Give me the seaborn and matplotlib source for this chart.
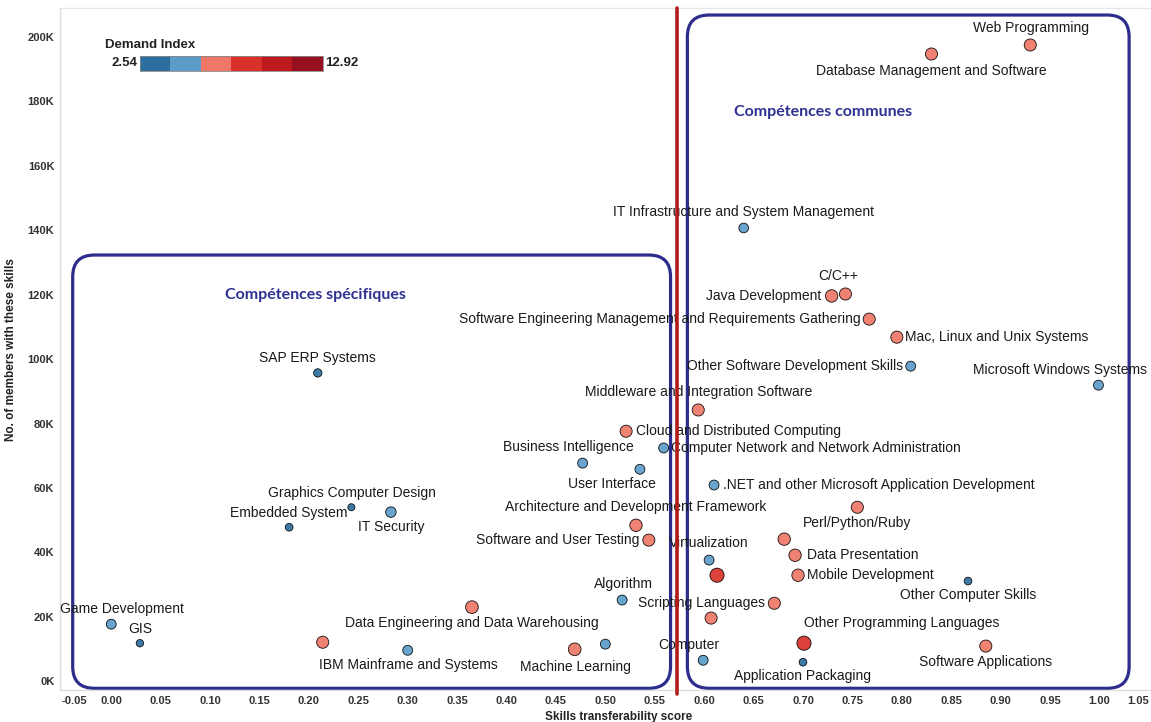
import numpy as np
import pandas as pd
import matplotlib
matplotlib.use("Agg")
import matplotlib.pyplot as plt
import seaborn as sns
from matplotlib.colors import ListedColormap, Normalize
from matplotlib.patches import FancyBboxPatch
from matplotlib.ticker import FuncFormatter, MultipleLocator

# skill name, transferability score, members (thousands), demand index
skills = [
    "Web Programming", "Database Management and Software",
    "IT Infrastructure and System Management", "C/C++", "Java Development",
    "Software Engineering Management and Requirements Gathering",
    "Mac, Linux and Unix Systems", "Other Software Development Skills",
    "Microsoft Windows Systems", "Middleware and Integration Software",
    "Cloud and Distributed Computing", "Computer Network and Network Administration",
    "Business Intelligence", "User Interface",
    ".NET and other Microsoft Application Development", "Perl/Python/Ruby",
    "Architecture and Development Framework", "Software and User Testing",
    "Virtualization", "", "", "Data Presentation", "Mobile Development",
    "Other Computer Skills", "Scripting Languages", "", "Algorithm",
    "Other Programming Languages", "Software Applications", "Computer",
    "Application Packaging", "Machine Learning", "",
    "Data Engineering and Data Warehousing", "", "IBM Mainframe and Systems",
    "Game Development", "GIS", "SAP ERP Systems", "Graphics Computer Design",
    "Embedded System", "IT Security",
]
score = [
    0.930, 0.830, 0.640, 0.743, 0.729, 0.767, 0.795, 0.809, 0.999, 0.594,
    0.521, 0.559, 0.477, 0.535, 0.610, 0.755, 0.531, 0.544, 0.605, 0.681,
    0.613, 0.692, 0.695, 0.867, 0.671, 0.607, 0.517, 0.701, 0.885, 0.599,
    0.700, 0.469, 0.500, 0.365, 0.214, 0.300, 0.000, 0.029, 0.209, 0.243,
    0.180, 0.283,
]
members_k = [
    197.5, 194.7, 140.7, 120.2, 119.6, 112.4, 106.8, 97.8, 91.9, 84.2,
    77.6, 72.4, 67.7, 65.8, 60.9, 54.0, 48.4, 43.8, 37.6, 44.1,
    32.9, 39.1, 32.9, 31.1, 24.2, 19.6, 25.2, 11.8, 10.9, 6.5,
    5.9, 9.9, 11.5, 23.0, 12.1, 9.6, 17.7, 11.8, 95.7, 54.0,
    47.8, 52.5,
]
demand = [
    7.0, 7.0, 4.8, 7.0, 7.3, 7.0, 7.0, 5.0, 5.0, 7.0,
    7.0, 5.0, 5.0, 5.0, 5.0, 7.0, 7.3, 7.0, 5.0, 7.3,
    9.2, 7.3, 7.3, 3.4, 7.0, 7.0, 5.0, 9.2, 7.0, 5.0,
    3.4, 7.6, 5.0, 7.6, 7.0, 5.0, 5.0, 3.2, 3.8, 3.0,
    3.4, 5.5,
]
# label offset in pixels from the point, and alignment
label_dx = [
    1, 0, 0, -7, -10, -9, 8, -8, -38, 0,
    10, 7, -14, -28, 9, 0, 0, -9, 0, 0,
    0, 12, 9, 0, -9, 0, 1, 0, 0, -14,
    0, 1, 0, 0, 0, 1, 11, 0, 0, 1,
    0, 0,
]
label_dy = [
    17, -17, 16, 18, 0, 0, 0, 0, 15, 18,
    0, 0, 16, -15, 0, -16, 18, 0, 17, 0,
    0, 0, 0, -14, 0, 0, 16, 20, -16, 15,
    -14, -18, 0, -16, 0, -15, 15, 14, 15, 14,
    14, -15,
]
label_ha = [
    "center", "center", "center", "center", "right", "right", "left", "right",
    "center", "center", "left", "left", "center", "center", "left", "center",
    "center", "right", "center", "center", "center", "left", "left", "center",
    "right", "center", "center", "left", "center", "center", "center", "center",
    "center", "center", "center", "center", "center", "center", "center",
    "center", "center", "center",
]

df = pd.DataFrame({"skill": skills, "score": score, "members": members_k,
                   "demand": demand})

demand_min, demand_max = 2.54, 12.92
step_colors = ["#2c6f9f", "#5b9cc9", "#ef7767", "#d9312a", "#bd1a1d", "#96101f"]
cmap = ListedColormap(step_colors)
norm = Normalize(demand_min, demand_max)

sns.set_style("white")
plt.rcParams["font.family"] = ["Liberation Sans", "DejaVu Sans"]

fig = plt.figure(figsize=(11.51, 7.22), dpi=100)
ax = fig.add_axes([0.052, 0.044, 0.947, 0.945])

sns.scatterplot(data=df, x="score", y="members", hue="demand", palette=cmap,
                hue_norm=norm, size="demand", sizes=(20, 150),
                size_norm=(demand_min, demand_max), edgecolor="#00000030",
                linewidth=0.6, alpha=0.92, legend=False, ax=ax, zorder=3)

for s, x, y, dx, dy, ha in zip(skills, score, members_k, label_dx, label_dy, label_ha):
    if s:
        ax.annotate(s, (x, y), xytext=(dx, dy), textcoords="offset pixels",
                    ha=ha, va="center", fontsize=10, color="#1a1a1a", zorder=4)

ax.set_xlim(-0.052, 1.051)
ax.set_ylim(-2.8, 209)
ax.xaxis.set_major_locator(MultipleLocator(0.05))
ax.yaxis.set_major_locator(MultipleLocator(20))
ax.xaxis.set_major_formatter(FuncFormatter(lambda v, p: f"{v:.2f}"))
ax.yaxis.set_major_formatter(FuncFormatter(lambda v, p: f"{v:.0f}K"))
ax.tick_params(axis="both", length=0, labelsize=8, labelcolor="#333333", pad=4)
xlabels = ax.get_xticklabels()
for lab in xlabels + ax.get_yticklabels():
    lab.set_fontweight("bold")
# edge labels squeezed inside the frame
fig.canvas.draw()
xticks = ax.get_xticks()
for t, lab in zip(xticks, ax.get_xticklabels()):
    if abs(t + 0.05) < 1e-6:
        lab.set_ha("left")
    elif abs(t - 1.05) < 1e-6:
        lab.set_ha("right")

ax.set_xlabel("Skills transferability score", fontsize=8.5, fontweight="bold",
              color="#222222")
ax.set_ylabel("No. of members with these skills", fontsize=8.5,
              fontweight="bold", color="#222222")
ax.xaxis.set_label_coords(0.513, -0.031)
ax.yaxis.set_label_coords(-0.039, 0.5)

for side in ["top", "right"]:
    ax.spines[side].set_visible(False)
for side in ["left", "bottom"]:
    ax.spines[side].set_color("#dddddd")
    ax.spines[side].set_linewidth(1)
ax.axhline(209, color="#e6e6e6", lw=1, zorder=1, clip_on=False)

# red separation line
ax.axvline(0.573, color="#b01d1d", lw=2.6, ymin=-0.005, ymax=1.0,
           clip_on=False, zorder=5)

# rounded group boxes
px_x = ax.bbox.width / (1.051 + 0.052)
px_y = ax.bbox.height / (209 + 2.8)
aspect = px_x / px_y
for (x0, x1, y0, y1) in [(-0.039, 0.566, -2.2, 132.3), (0.583, 1.030, -2.2, 206.8)]:
    box = FancyBboxPatch((x0, y0), x1 - x0, y1 - y0,
                         boxstyle="round,pad=0,rounding_size=0.022",
                         mutation_aspect=aspect, fill=False,
                         edgecolor="#2c2d8c", linewidth=2.3, zorder=2,
                         clip_on=False)
    ax.add_patch(box)

ax.text(0.207, 119.9, "Compétences spécifiques", fontsize=11.5,
        fontweight="bold", color="#2f3192", ha="center", va="center",
        family=["Lato", "DejaVu Sans"])
ax.text(0.720, 176.7, "Compétences communes", fontsize=11.5,
        fontweight="bold", color="#2f3192", ha="center", va="center",
        family=["Lato", "DejaVu Sans"])

# stepped colour legend
leg = ax.inset_axes([0.0733, 0.9076, 0.1677, 0.022])
leg.imshow(np.arange(len(step_colors))[None, :], cmap=cmap, aspect="auto")
leg.set_xticks([])
leg.set_yticks([])
for sp in leg.spines.values():
    sp.set_color("#888888")
    sp.set_linewidth(0.6)
ax.text(0.041, 0.946, "Demand Index", transform=ax.transAxes, fontsize=9.5,
        fontweight="bold", color="#222222", va="center")
ax.text(0.071, 0.9186, f"{demand_min:.2f}", transform=ax.transAxes,
        fontsize=9.5, fontweight="bold", color="#222222", va="center", ha="right")
ax.text(0.243, 0.9186, f"{demand_max:.2f}", transform=ax.transAxes,
        fontsize=9.5, fontweight="bold", color="#222222", va="center", ha="left")

fig.savefig("out.png", dpi=100)
